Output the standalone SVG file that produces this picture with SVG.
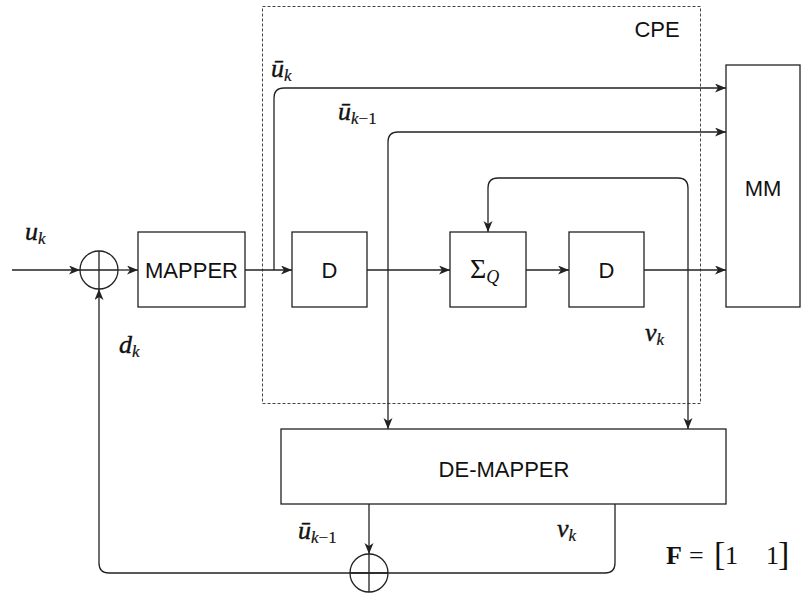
<svg xmlns="http://www.w3.org/2000/svg" width="801" height="596" viewBox="0 0 801 596">
<style>
.box{fill:#fff;stroke:#222;stroke-width:1.3}
.ln{fill:none;stroke:#222;stroke-width:1.3}
.arr{fill:none;stroke:#222;stroke-width:1.3;marker-end:url(#ah)}
.lbl{font-family:"Liberation Sans",Arial,sans-serif;font-size:22px;fill:#111;text-anchor:middle}
.m{font-family:"Liberation Serif","DejaVu Serif",serif;font-style:italic;font-size:26px;fill:#111;stroke:#111;stroke-width:0.4}
.sub{font-size:17px;stroke-width:0.2}
.up{font-style:normal}
</style>
<defs>
<marker id="ah" markerUnits="userSpaceOnUse" markerWidth="12" markerHeight="10" refX="11" refY="4.5" orient="auto">
<path d="M0,0 L11,4.5 L0,9 L3,4.5 z" fill="#222"/>
</marker>
</defs>
<g id="cpe">
<rect x="262.5" y="6.5" width="438" height="397" fill="none" stroke="#444" stroke-width="1" stroke-dasharray="3,2"/>
<text class="lbl" x="657" y="37">CPE</text>
</g>
<g id="connectors">
<path class="arr" d="M12,270 H80"/>
<path class="arr" d="M118,270 H138"/>
<path class="arr" d="M245,270 H292"/>
<path class="arr" d="M274,270 V98 Q274,88 284,88 H726"/>
<path class="arr" d="M367,270 H450"/>
<path class="arr" d="M388,270 V142 Q388,132 398,132 H726"/>
<path class="arr" d="M388,270 V429"/>
<path class="arr" d="M526,270 H569"/>
<path class="arr" d="M644,270 H726"/>
<path class="arr" d="M688,270 V188 Q688,178 678,178 H498 Q488,178 488,188 V232"/>
<path class="arr" d="M688,270 V429"/>
<path class="arr" d="M369,504 V554"/>
<path class="arr" d="M615,504 V563 Q615,573 605,573 H109 Q99,573 99,563 V289"/>
</g>
<g id="sum1">
<circle cx="99" cy="270" r="19" class="ln"/>
<path class="ln" d="M80,270 H118 M99,251 V289"/>
</g>
<g id="sum2">
<circle cx="369" cy="573" r="19" class="ln"/>
<path class="ln" d="M350,573 H388 M369,554 V592"/>
</g>
<g id="mapper">
<rect class="box" x="138" y="232" width="107" height="75"/>
<text class="lbl" x="191.5" y="278">MAPPER</text>
</g>
<g id="d1">
<rect class="box" x="292" y="232" width="75" height="75"/>
<text class="lbl" x="329.5" y="278">D</text>
</g>
<g id="sigma">
<rect class="box" x="450" y="232" width="76" height="75"/>
<text x="470" y="278" font-family="Liberation Serif,DejaVu Serif,serif" font-size="28" fill="#111">Σ<tspan font-style="italic" font-size="18" dy="5">Q</tspan></text>
</g>
<g id="d2">
<rect class="box" x="569" y="232" width="75" height="75"/>
<text class="lbl" x="606.5" y="278">D</text>
</g>
<g id="mm">
<rect class="box" x="726" y="65" width="74" height="242"/>
<text class="lbl" x="763" y="196">MM</text>
</g>
<g id="demapper">
<rect class="box" x="281" y="429" width="445" height="75"/>
<text class="lbl" x="504" y="477">DE-MAPPER</text>
</g>
<g id="labels">
<text class="m" x="25" y="240">u<tspan class="sub" dy="4">k</tspan></text>
<text class="m" x="271" y="77">ū<tspan class="sub" dy="4">k</tspan></text>
<text class="m" x="338" y="120">ū<tspan class="sub" dy="4">k<tspan class="up">−1</tspan></tspan></text>
<text class="m" x="645" y="341">ν<tspan class="sub" dy="4">k</tspan></text>
<text class="m" x="119" y="353">d<tspan class="sub" dy="4">k</tspan></text>
<text class="m" x="298" y="539">ū<tspan class="sub" dy="4">k<tspan class="up">−1</tspan></tspan></text>
<text class="m" x="557" y="537">ν<tspan class="sub" dy="4">k</tspan></text>
<text x="666" y="564" font-family="Liberation Serif,DejaVu Serif,serif" font-size="26" fill="#111"><tspan font-weight="bold">F</tspan><tspan x="689">=</tspan><tspan x="714" font-size="34" dy="1">[</tspan><tspan x="725" dy="-1">1</tspan><tspan x="766">1</tspan><tspan x="778" font-size="34" dy="1">]</tspan></text>
</g>
</svg>
